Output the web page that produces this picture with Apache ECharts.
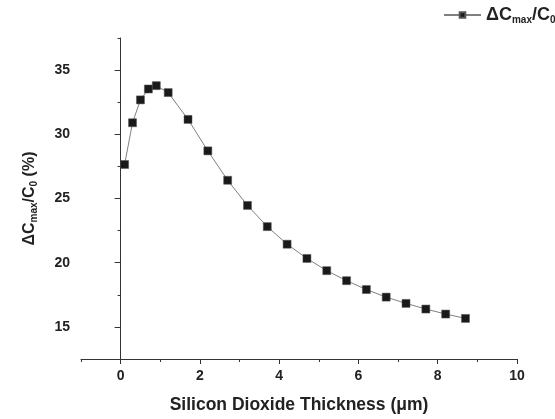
<!DOCTYPE html>
<html>
<head>
<meta charset="utf-8">
<script src="https://cdn.jsdelivr.net/npm/echarts@6/dist/echarts.min.js"></script>
<style>
  html, body { margin: 0; padding: 0; background: #fff; }
  #chart { width: 555px; height: 419px; }
</style>
</head>
<body>
<div id="chart"></div>
<script>
// Oxide thickness (µm) and relative capacitance change ΔCmax/C0 (%)
const thickness = [0.1, 0.3, 0.5, 0.7, 0.9, 1.2, 1.7, 2.2, 2.7, 3.2, 3.7, 4.2, 4.7, 5.2, 5.7, 6.2, 6.7, 7.2, 7.7, 8.2, 8.7];
const deltaC = [27.65, 30.9, 32.68, 33.53, 33.79, 33.25, 31.16, 28.71, 26.42, 24.46, 22.81, 21.44, 20.33, 19.38, 18.6, 17.91, 17.32, 16.83, 16.39, 16.0, 15.66];

// Labelled (major) tick positions
const xMajor = [0, 2, 4, 6, 8, 10];
const yMajor = [15, 20, 25, 30, 35];

const seriesName = 'dC';
const textColor = '#222';
const axisColor = '#333';
const font = 'Liberation Sans, Arial, sans-serif';

const richTitle = {
  a: { fontFamily: font, fontWeight: 'bold', fontSize: 16, color: textColor },
  s: { fontFamily: font, fontWeight: 'bold', fontSize: 10, color: textColor, padding: [9, 0, 0, 0] }
};
const richLegend = {
  a: { fontFamily: font, fontWeight: 'bold', fontSize: 18, color: textColor },
  s: { fontFamily: font, fontWeight: 'bold', fontSize: 10, color: textColor, padding: [11, 0, 0, 0] }
};
const tickFont = { fontFamily: font, fontWeight: 'bold', fontSize: 14, color: textColor };

const chart = echarts.init(document.getElementById('chart'));
chart.setOption({
  animation: false,
  backgroundColor: '#fff',
  grid: { left: 81, right: 38, top: 38, bottom: 57, containLabel: false },
  legend: {
    data: [seriesName],
    left: 443, top: 6, padding: 0,
    itemWidth: 37, itemHeight: 7, itemGap: 7,
    formatter: () => '{a|ΔC}{s|max}{a|/C}{s|0}',
    textStyle: { rich: richLegend }
  },
  xAxis: [{
    // minor ticks at every integer
    type: 'value', min: -1, max: 10, interval: 1,
    axisLine: { show: true, lineStyle: { color: axisColor, width: 1 } },
    axisTick: { show: true, inside: false, length: 3, lineStyle: { color: axisColor } },
    axisLabel: { show: false },
    splitLine: { show: false }
  }, {
    // major ticks and labels at even values
    type: 'value', min: -1, max: 10, position: 'bottom', offset: 0,
    name: 'Silicon Dioxide Thickness (μm)',
    nameLocation: 'middle', nameGap: 37,
    nameTextStyle: { fontFamily: font, fontWeight: 'bold', fontSize: 17.5, color: textColor },
    axisLine: { show: false },
    axisTick: { show: true, inside: false, length: 5, customValues: xMajor, lineStyle: { color: axisColor } },
    axisLabel: Object.assign({ margin: 10, customValues: xMajor }, tickFont),
    splitLine: { show: false }
  }],
  yAxis: [{
    // minor ticks every 2.5
    type: 'value', min: 12.5, max: 37.5, interval: 2.5,
    axisLine: { show: true, lineStyle: { color: axisColor, width: 1 } },
    axisTick: { show: true, inside: false, length: 3, lineStyle: { color: axisColor } },
    axisLabel: { show: false },
    splitLine: { show: false }
  }, {
    // major ticks and labels every 5
    type: 'value', min: 12.5, max: 37.5, position: 'left', offset: 0,
    name: '{a|ΔC}{s|max}{a|/C}{s|0}{a| (%)}',
    nameLocation: 'middle', nameGap: 42, nameRotate: 90,
    nameTextStyle: { rich: richTitle },
    axisLine: { show: false },
    axisTick: { show: true, inside: false, length: 6, customValues: yMajor, lineStyle: { color: axisColor } },
    axisLabel: Object.assign({ margin: 11, customValues: yMajor }, tickFont),
    splitLine: { show: false }
  }],
  series: [{
    name: seriesName,
    type: 'line',
    xAxisIndex: 0, yAxisIndex: 0,
    data: thickness.map((x, i) => [x, deltaC[i]]),
    symbol: 'rect', symbolSize: 8,
    lineStyle: { color: '#808080', width: 1 },
    itemStyle: { color: '#1a1a1a', borderColor: '#555', borderWidth: 0.5 }
  }]
});
</script>
</body>
</html>
